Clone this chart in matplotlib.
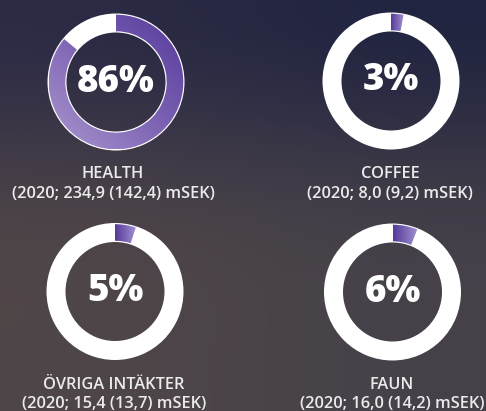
import numpy as np
import matplotlib
matplotlib.use("Agg")
import matplotlib.pyplot as plt
from matplotlib.patches import Wedge
from matplotlib.colors import LinearSegmentedColormap, to_rgb

# ---- data ----
categories = ["HEALTH", "COFFEE", "ÖVRIGA INTÄKTER", "FAUN"]
shares = [86, 3, 5, 6]
details = ["(2020; 234,9 (142,4) mSEK)", "(2020; 8,0 (9,2) mSEK)",
           "(2020; 15,4 (13,7) mSEK)", "(2020; 16,0 (14,2) mSEK)"]

# ---- layout / style ----
W, H = 486, 411
centers = [(116, 82), (391, 81), (115, 291.5), (392.5, 292)]
label_x = [113, 390, 114, 392]
label_y = [(174, 193.5), (174, 193.5), (384.5, 404), (384.5, 404)]
R_OUT, RING_W = 68.5, 19.0
FONT = ["Open Sans", "DejaVu Sans"]

fig = plt.figure(figsize=(W / 100, H / 100), dpi=100)
ax = fig.add_axes([0, 0, 1, 1])
ax.set_xlim(0, W)
ax.set_ylim(0, H)
ax.axis("off")

# background gradient (rows from bottom to top)
bg_cols = [["#4f4648", "#46414a"],
           ["#514749", "#464149"],
           ["#2b2a45", "#1f2340"]]
bg = np.array([[to_rgb(c) for c in row] for row in bg_cols])
ax.imshow(bg, extent=(0, W, 0, H), origin="lower", interpolation="bicubic",
          aspect="auto", zorder=0)

purple = LinearSegmentedColormap.from_list("p", ["#553a9a", "#7c63b4", "#ab97cf"])
purple_small = LinearSegmentedColormap.from_list("ps", ["#553a9a", "#a290d2"])

n = 200
uu, vv = np.meshgrid(np.linspace(0, 1, n), np.linspace(0, 1, n))

for i, (cat, share, det) in enumerate(zip(categories, shares, details)):
    cx, cy_img = centers[i]
    cy = H - cy_img
    # white base ring
    ax.add_patch(Wedge((cx, cy), R_OUT, 0, 360, width=RING_W,
                       facecolor="white", edgecolor="none", zorder=1))
    # purple share wedge, clockwise from 12 o'clock
    t1 = 90 - 360 * share / 100.0
    t2 = 90
    wedge = Wedge((cx, cy), R_OUT - 1.2, t1, t2, width=RING_W - 2.4,
                  facecolor="none", edgecolor="none", zorder=2)
    ax.add_patch(wedge)
    ext = wedge.get_path().get_extents()
    if share > 50:
        grad = 0.5 * ((1 - uu) + (1 - vv))
        cmap = purple
    else:
        grad = uu
        cmap = purple_small
    im = ax.imshow(grad, extent=(ext.x0, ext.x1, ext.y0, ext.y1), origin="lower",
                   cmap=cmap, vmin=0, vmax=1, interpolation="bilinear",
                   aspect="auto", zorder=2)
    im.set_clip_path(wedge)
    # percent label
    ax.text(cx, cy, f"{share}%", ha="center", va="center", color="white",
            fontsize=26.5, fontweight="heavy", family=FONT, zorder=3)
    # category labels
    ax.text(label_x[i], H - label_y[i][0], cat, ha="center", va="center",
            color="#ebebeb", fontsize=11.8, fontweight="semibold", family=FONT, zorder=3)
    ax.text(label_x[i], H - label_y[i][1], det, ha="center", va="center",
            color="#ebebeb", fontsize=11.8, fontweight="semibold", family=FONT, zorder=3)

ax.set_xlim(0, W)
ax.set_ylim(0, H)
fig.savefig("out.png", dpi=100)
